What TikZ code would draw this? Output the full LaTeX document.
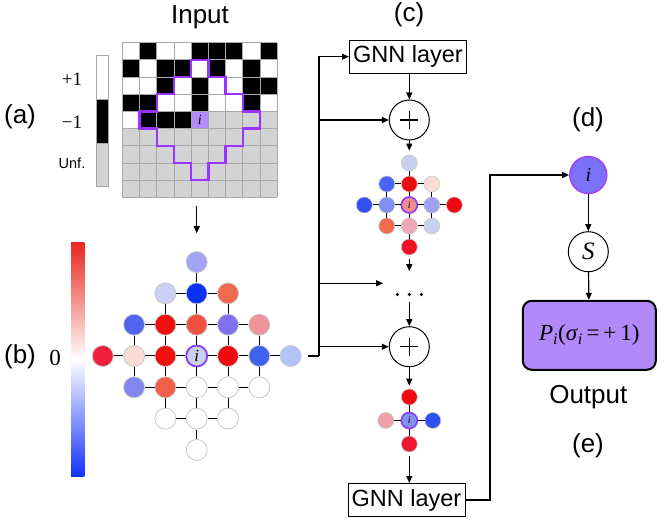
\documentclass[tikz,border=0pt]{standalone}
\usepackage{fontspec}
\setmainfont{Liberation Sans}
\newfontfamily\serif{Liberation Serif}
\usetikzlibrary{arrows.meta,calc}
\definecolor{gridgray}{HTML}{A8A8A8}
\definecolor{unf}{HTML}{D3D3D3}
\definecolor{outl}{HTML}{9933FF}
\definecolor{icell}{HTML}{B48CF8}
\definecolor{nodegray}{HTML}{C8C8C8}
\definecolor{ipurple}{HTML}{8A3CF0}
\definecolor{cbred}{HTML}{E8281E}
\definecolor{cbblue}{HTML}{1432FF}
\definecolor{dfill}{HTML}{7B70F8}
\definecolor{dborder}{HTML}{A040F0}
\definecolor{boxfill}{HTML}{B388F8}
\begin{document}
\begin{tikzpicture}[x=1pt,y=-1pt,
  arr/.style={-{Triangle[length=7pt,width=6pt]}, line width=1.2pt},
  ln/.style={line width=1.2pt},
  gnn/.style={draw, line width=1pt, minimum width=117pt, minimum height=33pt, inner sep=0pt, font=\fontsize{23.5}{25}\selectfont},
  plusnode/.style={circle, draw, line width=1pt, minimum size=40pt, inner sep=0pt,
    path picture={\draw[line width=1.3pt] ($(path picture bounding box.center)+(-9,0)$) -- ($(path picture bounding box.center)+(9,0)$) ($(path picture bounding box.center)+(0,-9)$) -- ($(path picture bounding box.center)+(0,9)$);}},
  bn/.style={circle, draw=nodegray, line width=0.8pt, minimum size=21pt, inner sep=0pt},
  sn/.style={circle, draw=nodegray, line width=0.6pt, minimum size=16pt, inner sep=0pt},
  lab/.style={font=\fontsize{26}{28}\selectfont},
  edge/.style={line width=1pt}]
\useasboundingbox (0,0) rectangle (664,526);

% ---------- titles / labels
\node[lab] (tin) at (200,17) {Input};
\node[lab] (ta) at (20,117) {(a)};
\node[lab] (tb) at (20,357) {(b)};
\node[lab] (tc) at (409,15) {(c)};
\node[lab] (td) at (588,120) {(d)};
\node[lab] (te) at (588,446) {(e)};

% ---------- (a) legend bar
\draw[gridgray, line width=0.8pt, fill=white] (96.7,55.7) rectangle (108.3,99);
\draw[gridgray, line width=0.8pt, fill=black] (96.7,99) rectangle (108.3,143);
\draw[gridgray, line width=0.8pt, fill=unf] (96.7,143) rectangle (108.3,186);
\node (lp) at (72,79) {\serif\fontsize{19}{20}\selectfont +1};
\node (lm) at (72,122) {\serif\fontsize{19}{20}\selectfont −1};
\node (lu) at (72,163) {\fontsize{14.5}{16}\selectfont Unf.};

% ---------- (a) grid
\begin{scope}[shift={(122.3,42.7)}, x=17.2pt, y=-17.2pt]
  \foreach \c/\r in {1/0,4/0,5/0,6/0,8/0, 0/1,2/1,3/1,5/1,7/1, 2/2,4/2,7/2,8/2, 0/3,1/3,4/3,7/3, 1/4,2/4,3/4}
    \fill[black] (\c,\r) rectangle ++(1,1);
  \fill[icell] (4,4) rectangle (5,5);
  \fill[unf] (5,4) rectangle (9,5);
  \fill[unf] (0,5) rectangle (9,9);
  \foreach \k in {0,...,9}{
    \draw[gridgray, line width=0.8pt] (\k,0) -- (\k,9);
    \draw[gridgray, line width=0.8pt] (0,\k) -- (9,\k);
  }
  \draw[outl, line width=2.4pt, line join=miter]
    (4,1) -- (5,1) -- (5,2) -- (6,2) -- (6,3) -- (7,3) -- (7,4) -- (8,4) -- (8,5) -- (7,5) -- (7,6) -- (6,6) -- (6,7) -- (5,7) -- (5,8) -- (4,8) -- (4,7) -- (3,7) -- (3,6) -- (2,6) -- (2,5) -- (1,5) -- (1,4) -- (2,4) -- (2,3) -- (3,3) -- (3,2) -- (4,2) -- cycle;
  \node (gi) at (4.5,4.5) {\serif\itshape\fontsize{14}{14}\selectfont i};
  \node[minimum width=154.8pt, minimum height=154.8pt, inner sep=0pt] (grid) at (4.5,4.5) {};
\end{scope}

% ---------- (b) colour bar
\shade[top color=cbred, bottom color=cbblue, middle color=white] (71,243) rectangle (84.3,476);
\node (zero) at (55,358) {\serif\fontsize{23}{24}\selectfont 0};

% ---------- (b) graph
\foreach \c/\r/\col in {3/0/A4A4F4, 2/1/CCD0F4, 3/1/0A32F5, 4/1/F06A50,
  1/2/5064F0, 2/2/F01010, 3/2/F05040, 4/2/8070F0, 5/2/F0949C,
  0/3/F0203C, 1/3/FADCD4, 2/3/F01010, 4/3/F00A10, 5/3/4060F0, 6/3/B0C4F8,
  1/4/8088F0, 2/4/F06048, 3/4/FFFFFF, 4/4/FFFFFF, 5/4/FFFFFF,
  2/5/FFFFFF, 3/5/FFFFFF, 4/5/FFFFFF, 3/6/FFFFFF}{
  \edef\x{\noexpand\definecolor{tmpc}{HTML}{\col}}\x
  \node[bn, fill=tmpc] (b\c\r) at ({196.7+31.3*(\c-3)},{356+31.3*(\r-3)}) {};
}
\definecolor{bi}{HTML}{C8D0F0}
\node[bn, fill=bi, draw=ipurple, line width=1.8pt] (b33) at (196.7,356) {\serif\itshape\fontsize{17}{17}\selectfont i};
\foreach \c in {0,...,6}{\foreach \r in {0,...,6}{
  \pgfmathtruncatemacro\dd{abs(\c-3)+abs(\r-3)}
  \pgfmathtruncatemacro\dx{abs(\c-2)+abs(\r-3)}
  \pgfmathtruncatemacro\dy{abs(\c-3)+abs(\r-2)}
  \pgfmathtruncatemacro\cn{\c+1}
  \pgfmathtruncatemacro\rn{\r+1}
  \ifnum\dd<4
    \ifnum\dx<4 \draw[edge] (b\c\r) -- (b\cn\r); \fi
    \ifnum\dy<4 \draw[edge] (b\c\r) -- (b\c\rn); \fi
  \fi
}}

% ---------- (c) column
\node[gnn] (G1) at (408,56.7) {GNN layer};
\node[plusnode] (P1) at (409.3,120) {};
\node[plusnode] (P2) at (409.3,346.7) {};
\node[gnn] (G2) at (406.5,500) {GNN layer};
\node[minimum width=52pt, minimum height=24pt, inner sep=0pt] (dots) at (409.3,283.3) {};
\foreach \dx in {-12,0,12} \fill ($(dots.south)+(\dx,-1)$) circle[radius=1.8pt];

% small graph 1
\foreach \c/\r/\col in {2/0/C8D0F0, 1/1/4A64F4, 2/1/F00A10, 3/1/FADCD4,
  0/2/3050F0, 1/2/8090F0, 3/2/A0A0F0, 4/2/F00A10,
  1/3/F06A50, 2/3/F0A8B8, 3/3/C8D0F0, 2/4/F01020}{
  \edef\x{\noexpand\definecolor{tmpc}{HTML}{\col}}\x
  \node[sn, fill=tmpc] (s\c\r) at ({409.3+22.5*(\c-2)},{205+21*(\r-2)}) {};
}
\definecolor{si}{HTML}{F08C90}
\node[sn, fill=si, draw=ipurple, line width=1.6pt] (s22) at (409.3,205) {\serif\itshape\fontsize{10}{10}\selectfont i};
\foreach \c in {0,...,4}{\foreach \r in {0,...,4}{
  \pgfmathtruncatemacro\dd{abs(\c-2)+abs(\r-2)}
  \pgfmathtruncatemacro\dx{abs(\c-1)+abs(\r-2)}
  \pgfmathtruncatemacro\dy{abs(\c-2)+abs(\r-1)}
  \pgfmathtruncatemacro\cn{\c+1}
  \pgfmathtruncatemacro\rn{\r+1}
  \ifnum\dd<3
    \ifnum\dx<3 \draw[edge] (s\c\r) -- (s\cn\r); \fi
    \ifnum\dy<3 \draw[edge] (s\c\r) -- (s\c\rn); \fi
  \fi
}}

% small graph 2
\foreach \c/\r/\col in {1/0/F00A10, 0/1/F0A0A8, 2/1/3050F4, 1/2/F01830}{
  \edef\x{\noexpand\definecolor{tmpc}{HTML}{\col}}\x
  \node[sn, fill=tmpc] (t\c\r) at ({409.3+23.5*(\c-1)},{420.5+23.5*(\r-1)}) {};
}
\definecolor{ti}{HTML}{8090F0}
\node[sn, fill=ti, draw=ipurple, line width=1.6pt] (t11) at (409.3,420.5) {\serif\itshape\fontsize{10}{10}\selectfont i};
\draw[edge] (t10) -- (t11);
\draw[edge] (t01) -- (t11);
\draw[edge] (t11) -- (t21);
\draw[edge] (t11) -- (t12);

% (c) arrows
\draw[arr] (G1.south -| P1) -- (P1);
\draw[arr, shorten >=4pt] (P1) -- (s20);
\draw[arr, shorten <=4pt] (s24) -- (dots.north);
\draw[arr] ([yshift=-7pt]dots.south) -- (P2.north);
\draw[arr, shorten >=3pt] (P2) -- (t10);
\draw[arr, shorten <=4pt] (t12) -- (t12 |- G2.north);

% bus from (b) to (c)
\coordinate (bo) at (308,356);
\coordinate (bus) at (319,356);
\draw[ln] (bo) -- (bus);
\draw[arr] (bus) |- (G1.west);
\draw[arr] (bus |- P1) -- (P1);
\draw[arr] (bus |- dots) -- (dots.west);
\draw[arr] (bus |- P2) -- (P2);

% arrow from grid to graph (b)
\draw[arr] ([yshift=-8pt]grid.south -| b30) -- ([yshift=18pt]b30.north);

% ---------- (d) / (e)
\node[circle, fill=dfill, draw=dborder, line width=1.4pt, minimum size=37pt, inner sep=0pt] (Di) at (588.3,175) {\serif\itshape\fontsize{20}{20}\selectfont i};
\node[circle, draw, line width=1pt, minimum size=40pt, inner sep=0pt] (S) at (588.3,251.7) {\serif\itshape\fontsize{25}{25}\selectfont S};
\node[draw, line width=2pt, rounded corners=9pt, fill=boxfill, minimum width=133pt, minimum height=69pt, inner sep=0pt] (out) at (589.3,335.3)
  {\serif\fontsize{23}{25}\selectfont\textit{P}\textsubscript{\textit{i}}(\textit{σ}\textsubscript{\textit{i}}\,=\,+\,1)};
\node[lab] (tout) at (588.3,396.7) {Output};
\coordinate (turn) at (490,175);
\draw[arr] (G2.east) -| (turn) -- (Di.west);
\draw[arr] (Di) -- (S);
\draw[arr] (S) -- (out);
\end{tikzpicture}
\end{document}
